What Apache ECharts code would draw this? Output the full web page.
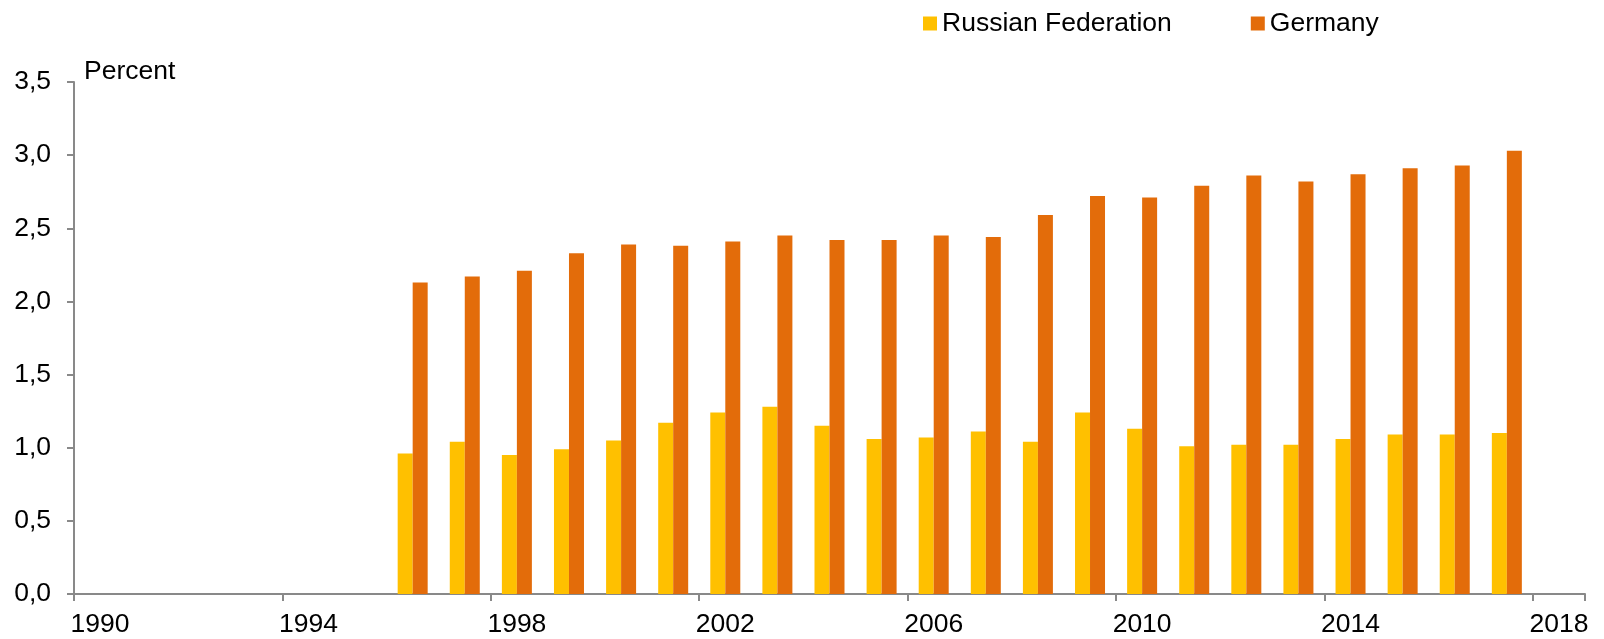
<!DOCTYPE html>
<html>
<head>
<meta charset="utf-8">
<script src="https://cdn.jsdelivr.net/npm/echarts@6/dist/echarts.min.js"></script>
<style>
  html, body { margin: 0; padding: 0; background: #fff; }
  #chart { width: 1604px; height: 639px; }
</style>
</head>
<body>
<div id="chart"></div>
<script>
// years on the x axis (1990 - 2018)
const years = ['1990', '1991', '1992', '1993', '1994', '1995', '1996', '1997', '1998', '1999',
  '2000', '2001', '2002', '2003', '2004', '2005', '2006', '2007', '2008', '2009',
  '2010', '2011', '2012', '2013', '2014', '2015', '2016', '2017', '2018'];

// Russian Federation, percent
const russia = [null, null, null, null, null, null, 0.96, 1.04, 0.95, 0.99,
  1.05, 1.17, 1.24, 1.28, 1.15, 1.06, 1.07, 1.11, 1.04, 1.24,
  1.13, 1.01, 1.02, 1.02, 1.06, 1.09, 1.09, 1.10, null];

// Germany, percent
const germany = [null, null, null, null, null, null, 2.13, 2.17, 2.21, 2.33,
  2.39, 2.38, 2.41, 2.45, 2.42, 2.42, 2.45, 2.44, 2.59, 2.72,
  2.71, 2.79, 2.86, 2.82, 2.87, 2.91, 2.93, 3.03, null];

const font = 'Liberation Sans, Arial, sans-serif';
const fontSize = 26.5;
const axisGrey = '#898989';

const chart = echarts.init(document.getElementById('chart'));
chart.setOption({
  animation: false,
  textStyle: { fontFamily: font, color: '#000' },
  legend: {
    left: 918,
    top: 5,
    itemWidth: 14,
    itemHeight: 14,
    itemGap: 79,
    icon: 'rect',
    textStyle: { fontFamily: font, fontSize: fontSize, color: '#000' },
    data: ['Russian Federation', 'Germany']
  },
  grid: { left: 74, right: 19, top: 82, bottom: 45, containLabel: false },
  xAxis: {
    type: 'category',
    data: years,
    axisLine: { show: true, lineStyle: { color: axisGrey, width: 2 } },
    axisTick: { show: true, interval: 3, length: 7, lineStyle: { color: axisGrey, width: 2 } },
    axisLabel: { interval: 3, margin: 17, fontSize: fontSize, color: '#000', fontFamily: font },
    splitLine: { show: false }
  },
  yAxis: {
    type: 'value',
    min: 0,
    max: 3.5,
    interval: 0.5,
    name: 'Percent',
    nameLocation: 'end',
    nameGap: 10,
    nameTextStyle: { fontSize: fontSize, color: '#000', fontFamily: font, align: 'left', verticalAlign: 'middle', padding: [0, 0, 0, 10] },
    axisLine: { show: true, lineStyle: { color: axisGrey, width: 2 } },
    axisTick: { show: true, length: 7, lineStyle: { color: axisGrey, width: 2 } },
    axisLabel: {
      margin: 23,
      fontSize: fontSize,
      color: '#000',
      fontFamily: font,
      formatter: (v) => v.toFixed(1).replace('.', ',')
    },
    splitLine: { show: false }
  },
  series: [
    {
      name: 'Russian Federation',
      type: 'bar',
      data: russia,
      barWidth: 15,
      barGap: 0,
      itemStyle: { color: '#FFC000' }
    },
    {
      name: 'Germany',
      type: 'bar',
      data: germany,
      barWidth: 15,
      barGap: 0,
      itemStyle: { color: '#E36C0A' }
    }
  ]
});
</script>
</body>
</html>
